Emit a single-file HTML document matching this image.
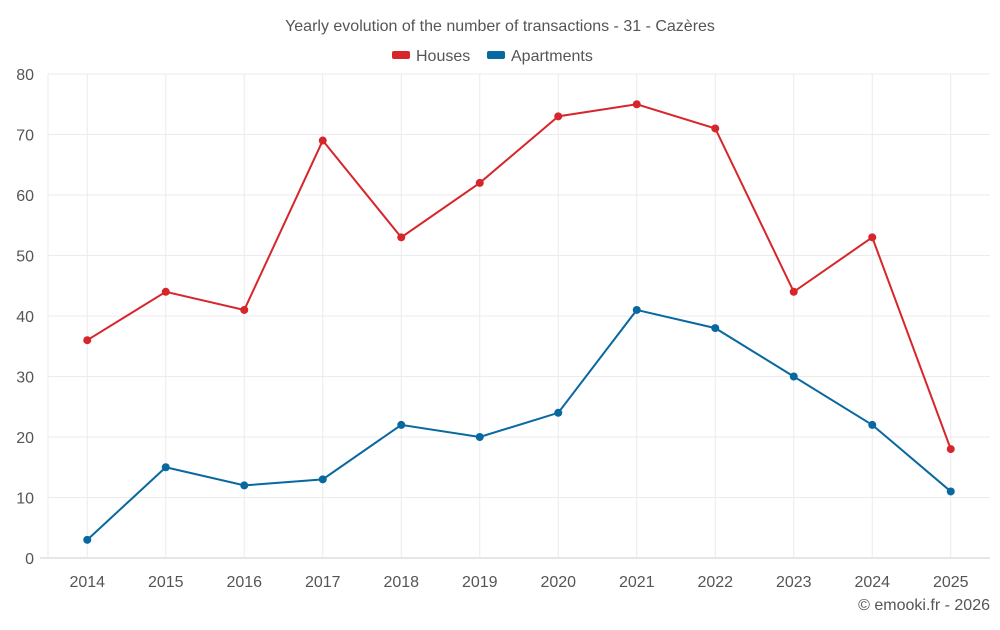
<!DOCTYPE html>
<html><head><meta charset="utf-8"><style>
body{margin:0;background:#fff;font-family:"Liberation Sans",Roboto,sans-serif;}
svg text{font-family:"Liberation Sans",sans-serif;}
</style></head><body>
<svg id="chart" width="1000" height="625" xmlns="http://www.w3.org/2000/svg">
<text x="500" y="31" text-anchor="middle" font-size="16" fill="#555">Yearly evolution of the number of transactions - 31 - Cazères</text>
<g>
<g><rect x="392" y="51" width="18" height="8" rx="2" fill="#d7262b"/><text x="416" y="61" font-size="16" fill="#555">Houses</text></g>
<g><rect x="487" y="51" width="18" height="8" rx="2" fill="#0868a0"/><text x="511" y="61" font-size="16" fill="#555">Apartments</text></g>
</g>
<g id="grid"></g>
<g id="axes"></g>
<g id="series"></g>
<text x="990" y="610" text-anchor="end" font-size="16" fill="#555">© emooki.fr - 2026</text>
</svg>
<script>
const years=["2014","2015","2016","2017","2018","2019","2020","2021","2022","2023","2024","2025"];
const houses=[36,44,41,69,53,62,73,75,71,44,53,18];
const apartments=[3,15,12,13,22,20,24,41,38,30,22,11];
const yTicks=[0,10,20,30,40,50,60,70,80];
const NS="http://www.w3.org/2000/svg";
const L=48,R=990,T=74,B=558,yMax=80;
const bw=(R-L)/years.length;
const xs=i=>L+bw*(i+0.5);
const ys=v=>B-(v/yMax)*(B-T);
function mk(tag,attrs,parent){const e=document.createElementNS(NS,tag);for(const k in attrs)e.setAttribute(k,attrs[k]);parent.appendChild(e);return e;}
const grid=document.getElementById('grid'),axes=document.getElementById('axes'),series=document.getElementById('series');
yTicks.forEach(t=>{
 const l=mk('line',{x1:t===0?40:L,x2:R,y1:ys(t),y2:ys(t),stroke:t===0?'#ccc':'#ebebeb','stroke-width':1},grid);
 
 
 const tx=mk('text',{x:L-14,y:ys(t)+6,'text-anchor':'end','font-size':16,fill:'#555'},axes);
 tx.textContent=t;
 
 
});
const lg=mk('line',{x1:L,x2:L,y1:T,y2:B,stroke:'#ebebeb'},grid);


years.forEach((y,i)=>{
 const l=mk('line',{x1:xs(i),x2:xs(i),y1:T,y2:B,stroke:'#ebebeb'},grid);
 
 
 const tx=mk('text',{x:xs(i),y:B+29,'text-anchor':'middle','font-size':16,fill:'#555'},axes);
 tx.textContent=y;
 
 
});
function draw(data,color,name){
 const p=mk('polyline',{points:data.map((v,i)=>xs(i)+','+ys(v)).join(' '),fill:'none',stroke:color,'stroke-width':2},series);
 
 
 data.forEach((v,i)=>{
  const c=mk('circle',{cx:xs(i),cy:ys(v),r:4,fill:color},series);
  
  
 });
}
draw(houses,'#d7262b','houses');
draw(apartments,'#0868a0','apartments');
</script>
</body></html>
